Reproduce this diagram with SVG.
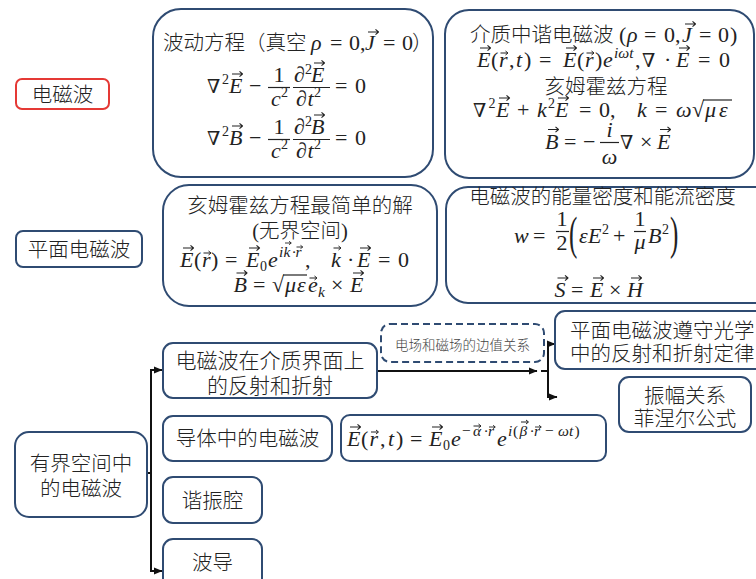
<svg xmlns="http://www.w3.org/2000/svg" xmlns:xlink="http://www.w3.org/1999/xlink" width="756" height="579" viewBox="0 0 756 579">
<defs>
<style>
.bx{fill:#fff;stroke:#2f4b72;stroke-width:2}
.rd{fill:#fff;stroke:#e53935;stroke-width:2}
.dsh{fill:#fff;stroke:#2f4b72;stroke-width:2;stroke-dasharray:7 4}
.cn{font-family:"Noto Sans CJK SC","Noto Sans",sans-serif;font-size:20.5px;font-weight:300;fill:#222}
.lb{font-family:"Noto Sans CJK SC","Noto Sans",sans-serif;font-size:13.5px;font-weight:300;fill:#444}
.m{font-family:"Liberation Serif","DejaVu Serif",serif;font-size:22px;font-style:italic;fill:#222}
.u{font-style:normal}
.s{font-size:14px;font-style:normal}
.si{font-size:15.5px}
.nb{font-family:"DejaVu Serif","DejaVu Sans",serif;font-style:normal;font-size:19px;fill:#222}
.fb{stroke:#222;stroke-width:1.2}
.k{fill:none;stroke:#111;stroke-width:2}
</style>
<path id="va" d="M0,0H10M7.5,-2.6L10.5,0L7.5,2.6" fill="none" stroke="#222" stroke-width="1.1" stroke-linejoin="round"/>
<path id="vb" d="M0,0H7M5,-2L7.5,0L5,2" fill="none" stroke="#222" stroke-width="1" stroke-linejoin="round"/>
<path id="vc" d="M0,0H6M4,-1.7L6.3,0L4,1.7" fill="none" stroke="#222" stroke-width="0.9" stroke-linejoin="round"/>
<marker id="ah" markerWidth="9" markerHeight="8" refX="8" refY="4" orient="auto" markerUnits="userSpaceOnUse">
<path d="M0,0.5L8.5,4L0,7.5z" fill="#111"/>
</marker>
</defs>

<g id="connectors">
<path class="k" d="M147,473H151"/>
<path class="k" d="M151,473V370H162" marker-end="url(#ah)"/>
<path class="k" d="M151,473V571H162" marker-end="url(#ah)"/>
<path class="k" d="M377,371H537" marker-end="url(#ah)"/>
<path class="k" d="M541,371H548"/>
<path class="k" d="M548,371V344H555" marker-end="url(#ah)"/>
<path class="k" d="M548,371V397H557" marker-end="url(#ah)"/>
</g>

<g id="n-em">
<rect class="rd" x="16" y="79" width="93" height="30" rx="6"/>
<text class="cn" x="62.5" y="102" text-anchor="middle">电磁波</text>
</g>

<g id="n-wave-eq">
<rect class="bx" x="153" y="9" width="280" height="168" rx="28"/>
<text class="cn" x="163" y="50">波动方程（真空</text>
<text class="m" y="50"><tspan x="311">ρ</tspan><tspan class="u" x="330">=</tspan><tspan class="u" x="349">0,</tspan><tspan x="365">J</tspan><tspan class="u" x="383">=</tspan><tspan class="u" x="402">0</tspan></text>
<text class="cn" x="412" y="50">）</text>
<use href="#va" x="368" y="32"/>
<text class="nb" x="207" y="93">∇</text>
<text class="m" y="93"><tspan class="s" x="222" y="84">2</tspan><tspan x="229" y="93">E</tspan><tspan class="u" x="249">−</tspan><tspan class="u" x="335">=</tspan><tspan class="u" x="355">0</tspan></text>
<use href="#va" x="232" y="74"/>
<text class="m u" x="279" y="82" text-anchor="middle">1</text>
<line class="fb" x1="268" y1="87.5" x2="290" y2="87.5"/>
<text class="m" y="106"><tspan x="271">c</tspan><tspan class="s" x="281" y="97">2</tspan></text>
<text class="m" y="82"><tspan class="u" x="294">∂</tspan><tspan class="s" x="305" y="74">2</tspan><tspan x="311" y="82">E</tspan></text>
<use href="#va" x="314" y="63"/>
<line class="fb" x1="293" y1="87.5" x2="330" y2="87.5"/>
<text class="m" y="106"><tspan class="u" x="296">∂</tspan><tspan x="307.5">t</tspan><tspan class="s" x="314" y="97">2</tspan></text>
<text class="nb" x="207" y="145">∇</text>
<text class="m" y="145"><tspan class="s" x="222" y="136">2</tspan><tspan x="229" y="145">B</tspan><tspan class="u" x="249">−</tspan><tspan class="u" x="335">=</tspan><tspan class="u" x="355">0</tspan></text>
<use href="#va" x="232" y="126"/>
<text class="m u" x="279" y="134" text-anchor="middle">1</text>
<line class="fb" x1="268" y1="139.5" x2="290" y2="139.5"/>
<text class="m" y="158"><tspan x="271">c</tspan><tspan class="s" x="281" y="149">2</tspan></text>
<text class="m" y="134"><tspan class="u" x="294">∂</tspan><tspan class="s" x="305" y="126">2</tspan><tspan x="311" y="134">B</tspan></text>
<use href="#va" x="314" y="115"/>
<line class="fb" x1="293" y1="139.5" x2="330" y2="139.5"/>
<text class="m" y="158"><tspan class="u" x="296">∂</tspan><tspan x="307.5">t</tspan><tspan class="s" x="314" y="149">2</tspan></text>
</g>

<g id="n-harmonic">
<rect class="bx" x="445" y="10" width="309" height="168" rx="24"/>
<text class="cn" x="470" y="42">介质中谐电磁波</text>
<text class="m" y="42"><tspan class="u" x="619">(</tspan><tspan x="627">ρ</tspan><tspan class="u" x="644">=</tspan><tspan class="u" x="664">0,</tspan><tspan x="682">J</tspan><tspan class="u" x="699">=</tspan><tspan class="u" x="718">0</tspan><tspan class="u" x="730">)</tspan></text>
<use href="#va" x="685" y="24"/>
<text class="m" y="67"><tspan x="477">E</tspan><tspan class="u" x="491">(</tspan><tspan x="499">r</tspan><tspan class="u" x="509">,</tspan><tspan x="516">t</tspan><tspan class="u" x="524">)</tspan><tspan class="u" x="539">=</tspan><tspan x="563">E</tspan><tspan class="u" x="577">(</tspan><tspan x="585">r</tspan><tspan class="u" x="595">)</tspan><tspan x="603">e</tspan><tspan class="si" x="614" y="58">iωt</tspan><tspan class="u" x="635" y="67">,</tspan><tspan class="u" x="664">·</tspan><tspan x="676">E</tspan><tspan class="u" x="698">=</tspan><tspan class="u" x="719">0</tspan></text>
<text class="nb" x="642" y="67">∇</text>
<use href="#va" x="480" y="48"/>
<use href="#vb" x="500.5" y="53"/>
<use href="#va" x="566" y="48"/>
<use href="#vb" x="586.5" y="53"/>
<use href="#va" x="679" y="48"/>
<text class="cn" x="606" y="94" text-anchor="middle">亥姆霍兹方程</text>
<text class="nb" x="473" y="117">∇</text>
<text class="m" y="117"><tspan class="s" x="488.5" y="108">2</tspan><tspan x="496" y="117">E</tspan><tspan class="u" x="517">+</tspan><tspan x="537">k</tspan><tspan class="s" x="548" y="108">2</tspan><tspan x="555" y="117">E</tspan><tspan class="u" x="579">=</tspan><tspan class="u" x="599">0,</tspan><tspan x="637">k</tspan><tspan class="u" x="655">=</tspan><tspan x="676">ω</tspan><tspan class="u" x="692">√</tspan><tspan x="705">μ</tspan><tspan x="719">ε</tspan></text>
<line class="fb" x1="703" y1="100" x2="732" y2="100"/>
<use href="#va" x="499" y="98"/>
<use href="#va" x="558" y="98"/>
<text class="m" y="148.5"><tspan x="545">B</tspan><tspan class="u" x="564">=</tspan><tspan class="u" x="583">−</tspan><tspan class="u" x="640">×</tspan><tspan x="657">E</tspan></text>
<text class="nb" x="620" y="148.5">∇</text>
<text class="m" x="609.5" y="136.5" text-anchor="middle">i</text>
<line class="fb" x1="600" y1="142.5" x2="619" y2="142.5"/>
<text class="m" x="609.5" y="163.5" text-anchor="middle">ω</text>
<use href="#va" x="548" y="129.5"/>
<use href="#va" x="660" y="129.5"/>
</g>

<g id="n-plane">
<rect class="bx" x="16" y="231" width="126" height="36" rx="7"/>
<text class="cn" x="79" y="257" text-anchor="middle">平面电磁波</text>
</g>

<g id="n-simplest">
<rect class="bx" x="163" y="185" width="274" height="121" rx="26"/>
<text class="cn" x="300" y="213" text-anchor="middle">亥姆霍兹方程最简单的解</text>
<text class="cn" x="300" y="238" text-anchor="middle"><tspan font-family="Liberation Serif, serif">(</tspan>无界空间<tspan font-family="Liberation Serif, serif">)</tspan></text>
<text class="m" y="267"><tspan x="180">E</tspan><tspan class="u" x="194">(</tspan><tspan x="202">r</tspan><tspan class="u" x="211">)</tspan><tspan class="u" x="225">=</tspan><tspan x="246">E</tspan><tspan class="s" x="260" y="271">0</tspan><tspan x="268" y="267">e</tspan><tspan class="si" x="279" y="257">i</tspan><tspan class="si" x="283.5">k</tspan><tspan class="si u" x="291.5">·</tspan><tspan class="si" x="295.5">r</tspan><tspan class="u" x="305" y="267">,</tspan><tspan x="331">k</tspan><tspan class="u" x="347">·</tspan><tspan x="357">E</tspan><tspan class="u" x="378">=</tspan><tspan class="u" x="398">0</tspan></text>
<use href="#va" x="183" y="248"/>
<use href="#vb" x="203.5" y="253"/>
<use href="#va" x="249" y="248"/>
<use href="#vc" x="285" y="243"/>
<use href="#vc" x="296.5" y="247"/>
<use href="#vb" x="333.5" y="248"/>
<use href="#va" x="360" y="248"/>
<text class="m" y="292"><tspan x="233.5">B</tspan><tspan class="u" x="253">=</tspan><tspan class="u" x="272">√</tspan><tspan x="285">μ</tspan><tspan x="297">ε</tspan><tspan x="308">e</tspan><tspan class="si" x="318" y="297">k</tspan><tspan class="u" x="331" y="292">×</tspan><tspan x="350">E</tspan></text>
<line class="fb" x1="283" y1="275" x2="307" y2="275"/>
<use href="#va" x="236.5" y="273"/>
<use href="#vb" x="309.5" y="278"/>
<use href="#va" x="353" y="273"/>
</g>

<g id="n-energy">
<rect class="bx" x="446" y="187" width="330" height="116" rx="22"/>
<text class="cn" x="602.5" y="204" text-anchor="middle">电磁波的能量密度和能流密度</text>
<text class="m" y="243"><tspan x="514">w</tspan><tspan class="u" x="533">=</tspan><tspan x="579">ε</tspan><tspan x="588">E</tspan><tspan class="s" x="602" y="234">2</tspan><tspan class="u" x="613" y="243">+</tspan><tspan x="648">B</tspan><tspan class="s" x="662" y="234">2</tspan></text>
<text class="m u" x="562" y="226" text-anchor="middle">1</text>
<line class="fb" x1="556" y1="231.5" x2="569" y2="231.5"/>
<text class="m u" x="562" y="250" text-anchor="middle">2</text>
<text class="m u" x="640" y="226" text-anchor="middle">1</text>
<line class="fb" x1="634" y1="231.5" x2="646" y2="231.5"/>
<text class="m" x="640" y="249" text-anchor="middle">μ</text>
<text class="m u" style="font-size:25px" transform="translate(569,249) scale(1,1.9)">(</text>
<text class="m u" style="font-size:25px" transform="translate(670,249) scale(1,1.9)">)</text>
<text class="m" y="297"><tspan x="554.5">S</tspan><tspan class="u" x="571">=</tspan><tspan x="590">E</tspan><tspan class="u" x="609">×</tspan><tspan x="627">H</tspan></text>
<use href="#va" x="557.5" y="278"/>
<use href="#va" x="593" y="278"/>
<use href="#va" x="631" y="278"/>
</g>

<g id="n-bounded">
<rect class="bx" x="15" y="432" width="132" height="85" rx="14"/>
<text class="cn" x="81" y="471" text-anchor="middle">有界空间中</text>
<text class="cn" x="81" y="496" text-anchor="middle">的电磁波</text>
</g>

<g id="n-interface">
<rect class="bx" x="163" y="343" width="214" height="55" rx="10"/>
<text class="cn" x="270" y="368" text-anchor="middle" style="font-size:21px">电磁波在介质界面上</text>
<text class="cn" x="270" y="393" text-anchor="middle" style="font-size:21px">的反射和折射</text>
</g>

<g id="n-boundary-label">
<rect class="dsh" x="381" y="324" width="163" height="38" rx="9"/>
<text class="lb" x="462.5" y="350" text-anchor="middle">电场和磁场的边值关系</text>
</g>

<g id="n-optics">
<rect class="bx" x="555" y="311" width="220" height="58" rx="10"/>
<text class="cn" x="570" y="338">平面电磁波遵守光学</text>
<text class="cn" x="570" y="361">中的反射和折射定律</text>
</g>

<g id="n-fresnel">
<rect class="bx" x="619" y="377" width="132" height="55" rx="10"/>
<text class="cn" x="685" y="403" text-anchor="middle">振幅关系</text>
<text class="cn" x="685" y="426" text-anchor="middle">菲涅尔公式</text>
</g>

<g id="n-conductor">
<rect class="bx" x="163" y="416" width="169" height="45" rx="10"/>
<text class="cn" x="247.5" y="446" text-anchor="middle">导体中的电磁波</text>
</g>

<g id="n-conductor-eq">
<rect class="bx" x="341" y="415" width="265" height="46" rx="9"/>
<text class="m" y="446"><tspan x="347">E</tspan><tspan class="u" x="361">(</tspan><tspan x="369.5">r</tspan><tspan class="u" x="380">,</tspan><tspan x="388">t</tspan><tspan class="u" x="396">)</tspan><tspan class="u" x="410">=</tspan><tspan x="429">E</tspan><tspan class="s" x="443" y="450">0</tspan><tspan x="451" y="446">e</tspan><tspan class="si u" x="462" y="436">−</tspan><tspan class="si" x="473">α</tspan><tspan class="si u" x="483.5">·</tspan><tspan class="si" x="488">r</tspan><tspan x="497" y="446">e</tspan><tspan class="si" x="508" y="436">i</tspan><tspan class="si u" x="513">(</tspan><tspan class="si" x="519.5">β</tspan><tspan class="si u" x="529.5">·</tspan><tspan class="si" x="534">r</tspan><tspan class="si u" x="545">−</tspan><tspan class="si" x="558">ω</tspan><tspan class="si" x="569">t</tspan><tspan class="si u" x="574.5">)</tspan></text>
<use href="#va" x="350" y="427"/>
<use href="#vb" x="371" y="432"/>
<use href="#va" x="432" y="427"/>
<use href="#vb" x="473.5" y="426"/>
<use href="#vc" x="489" y="427"/>
<use href="#vb" x="521" y="422"/>
<use href="#vc" x="535" y="427"/>
</g>

<g id="n-cavity">
<rect class="bx" x="163" y="477" width="99" height="46" rx="10"/>
<text class="cn" x="212.5" y="508" text-anchor="middle">谐振腔</text>
</g>

<g id="n-guide">
<rect class="bx" x="163" y="539" width="99" height="55" rx="10"/>
<text class="cn" x="212.5" y="570" text-anchor="middle">波导</text>
</g>
</svg>
